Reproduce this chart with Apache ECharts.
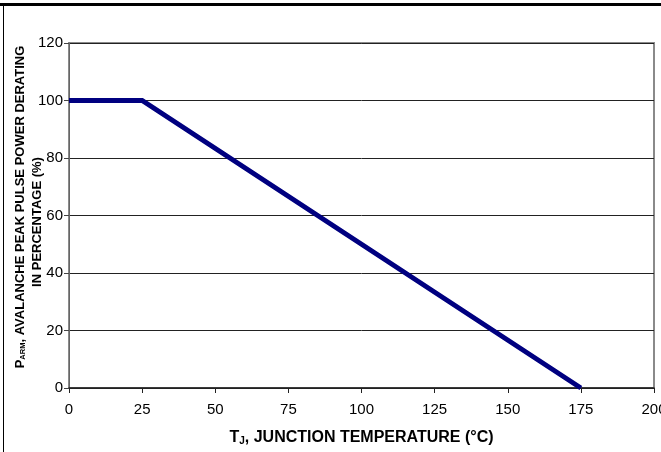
<!DOCTYPE html>
<html>
<head>
<meta charset="utf-8">
<script src="https://cdn.jsdelivr.net/npm/echarts@6/dist/echarts.min.js"></script>
<style>
html,body{margin:0;padding:0;background:#fff;}
#chart{width:661px;height:452px;}
</style>
</head>
<body>
<div id="chart"></div>
<script>
// Data
var tempC = [0, 25, 175];          // junction temperature (°C)
var derating = [100, 100, 0];      // derating (%)
var xTicks = [0, 25, 50, 75, 100, 125, 150, 175, 200];
var yTicks = [0, 20, 40, 60, 80, 100, 120];
var yTitle1 = '{b|P}{s|ARM}{b|, AVALANCHE PEAK PULSE POWER DERATING}';
var yTitle2 = '{b|IN PERCENTAGE (%)}';

var chart = echarts.init(document.getElementById('chart'), null, {renderer: 'canvas'});
var font = 'Arial, "Liberation Sans", Helvetica, sans-serif';
var yRich = {
  b: {fontFamily: font, fontWeight: 'bold', fontSize: 13, fill: '#000', color: '#000', lineHeight: 16},
  s: {fontFamily: font, fontWeight: 'bold', fontSize: 7.5, fill: '#000', color: '#000', lineHeight: 16, padding: [6, 0, 0, 0]}
};

var option = {
  backgroundColor: '#fff',
  animation: false,
  grid: {
    left: 69, right: 7, top: 43, bottom: 64,
    outerBoundsMode: 'none', containLabel: false,
    show: true, borderColor: '#8a8a8a', borderWidth: 2, backgroundColor: 'transparent'
  },
  graphic: [
    {type: 'rect', shape: {x: 0, y: 3, width: 661, height: 3}, style: {fill: '#000'}, silent: true},
    {type: 'rect', shape: {x: 3, y: 5, width: 1, height: 447}, style: {fill: '#000'}, silent: true},
    {type: 'text', x: 20, y: 207, rotation: Math.PI / 2, silent: true,
     style: {text: yTitle1, rich: yRich, align: 'center', verticalAlign: 'middle', fill: '#000'}},
    {type: 'text', x: 37, y: 222, rotation: Math.PI / 2, silent: true,
     style: {text: yTitle2, rich: yRich, align: 'center', verticalAlign: 'middle', fill: '#000'}}
  ],
  xAxis: {
    type: 'value',
    min: xTicks[0], max: xTicks[xTicks.length - 1], interval: 25,
    name: '{b|T}{s|J}{b|, JUNCTION TEMPERATURE (°C)}',
    nameLocation: 'middle', nameGap: 41,
    nameTextStyle: {
      rich: {
        b: {fontFamily: font, fontWeight: 'bold', fontSize: 16, color: '#000'},
        s: {fontFamily: font, fontWeight: 'bold', fontSize: 10, color: '#000', padding: [7, 0, 0, 0]}
      }
    },
    axisLine: {show: true, onZero: false, lineStyle: {color: '#222', width: 1.5}},
    axisTick: {show: true, inside: false, length: 5, lineStyle: {color: '#222'}},
    axisLabel: {fontFamily: font, fontSize: 15, color: '#000', margin: 14},
    splitLine: {show: false}
  },
  yAxis: {
    type: 'value',
    min: yTicks[0], max: yTicks[yTicks.length - 1], interval: 20,
    axisLine: {show: true, lineStyle: {color: '#666', width: 1}},
    axisTick: {show: true, inside: false, length: 5, lineStyle: {color: '#444'}},
    axisLabel: {fontFamily: font, fontSize: 15, color: '#000', margin: 6},
    splitLine: {show: true, lineStyle: {color: '#222', width: 1}}
  },
  series: [{
    type: 'line',
    data: tempC.map(function (t, i) { return [t, derating[i]]; }),
    showSymbol: false,
    symbol: 'none',
    lineStyle: {color: '#000080', width: 5, join: 'miter'},
    z: 3
  }]
};
chart.setOption(option);
</script>
</body>
</html>
